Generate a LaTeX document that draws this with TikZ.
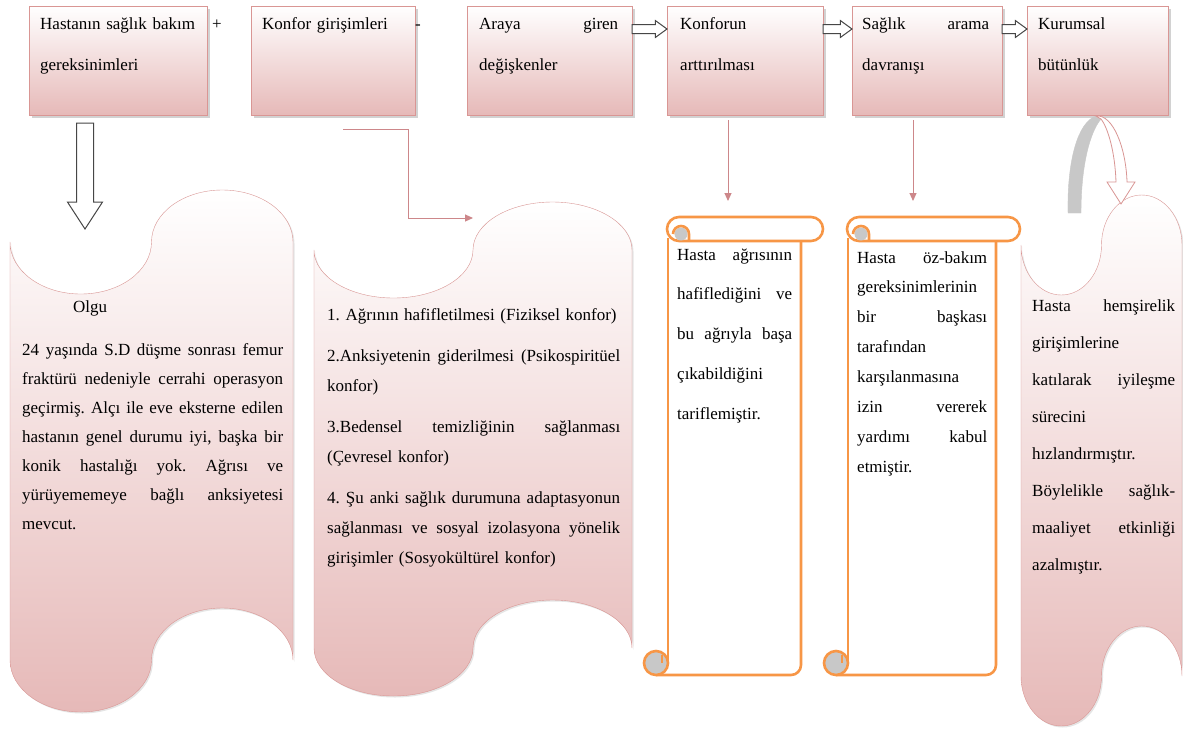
\documentclass[tikz,border=0pt]{standalone}
\usepackage{fontspec}
\setmainfont{Liberation Serif}
\usetikzlibrary{positioning,shapes.arrows,arrows.meta,shadows}
\definecolor{pinkbot}{RGB}{230,185,184}
\definecolor{pinkline}{RGB}{217,150,148}
\definecolor{connpink}{RGB}{205,135,138}
\definecolor{scrollorange}{RGB}{247,150,70}
\definecolor{curlgray}{RGB}{200,200,200}
\definecolor{arrowgray}{RGB}{70,70,70}
\frenchspacing
\newlength{\jlwidth}
\newcommand{\jl}[1]{\makebox[\jlwidth][s]{\spaceskip=.25em plus 1fil minus .08em\relax #1}}
\newcommand{\wavepath}[5]{%
  \draw[wave] (#1,#3) arc[start angle=180,end angle=0,x radius={#2/4},y radius=#5]
    arc[start angle=180,end angle=360,x radius={#2/4},y radius=#5]
    -- ++(0,{#4-#3})
    arc[start angle=0,end angle=-180,x radius={#2/4},y radius=#5]
    arc[start angle=0,end angle=180,x radius={#2/4},y radius=#5] -- cycle;}
\newcommand{\vscroll}[3]{%
  \fill[white] (#1,238) rectangle (#3,675);
  \draw[scroll] (#1,238) -- (#1,663);
  \draw[scroll] (#3,238) -- (#3,665) arc[start angle=0,end angle=90,radius=10] -- ({#1-12},675);
  \filldraw[scroll, fill=curlgray] ({#1-12},663) circle[radius=12];
  \draw[scroll, line width=1.2pt] ({#1-6},655) -- ({#1-6},663);
  \filldraw[scroll, fill=white, rounded corners=12pt] ({#1-1},217) rectangle (#2,241);
  \fill[curlgray] ({#1+13},234) circle[radius=6.5];
  \draw[scroll] ({#1+5},234) arc[start angle=180,end angle=360,radius=8] -- ({#1+21},240);}
\tikzset{
  topbox/.style={draw=pinkline, top color=white, bottom color=pinkbot,
    drop shadow={shadow xshift=2.5pt,shadow yshift=-2.5pt,opacity=.35},
    minimum height=109pt, inner sep=0pt, outer sep=0pt},
  txt/.style={inner sep=0pt, anchor=base west, align=left,
    font=\fontsize{17}{#1}\selectfont},
  txt/.default=29,
  tw/.style={text width=#1, jlw=#1},
  jlw/.code={\setlength{\jlwidth}{#1}},
  wave/.style={draw=pinkline, top color=white, bottom color=pinkbot,
    drop shadow={shadow xshift=1.5pt,shadow yshift=-1.5pt,opacity=.2}},
  conn/.style={draw=connpink, line width=1pt, -{Triangle[length=8pt,width=7pt]}},
  blockarrow/.style={single arrow, draw=arrowgray, fill=white, line width=1pt,
    inner xsep=0pt, outer sep=0pt},
  scroll/.style={draw=scrollorange, line width=2.6pt},
}
\begin{document}
\begin{tikzpicture}[x=1pt,y=-1pt]
\useasboundingbox[fill=white] (0,0) rectangle (1183,734);

\node[topbox, minimum width=178pt, anchor=north west] (A) at (29,6) {};
\node[topbox, minimum width=164pt, right=44pt of A] (B) {};
\node[topbox, minimum width=165pt, right=52pt of B] (C) {};
\node[topbox, minimum width=156pt, right=35pt of C] (D) {};
\node[topbox, minimum width=150pt, right=29pt of D] (E) {};
\node[topbox, minimum width=141pt, right=25pt of E] (F) {};

\node[txt=41, tw=160pt] (tA) at (40,29) {Hastanın sağlık bakım\\gereksinimleri};
\node[txt] (plus) at (212,29) {+};
\node[txt=41, tw=140pt] (tB) at (262,29) {Konfor girişimleri};
\node[txt] (minus) at (415,29) {-};
\node[txt=41, tw=139pt] (tC) at (479,29) {\jl{Araya giren}\\değişkenler};
\node[txt=41, tw=130pt] (tD) at (680,29) {Konforun\\arttırılması};
\node[txt=41, tw=127pt] (tE) at (862,29) {\jl{Sağlık arama}\\davranışı};
\node[txt=41, tw=120pt] (tF) at (1038,29) {Kurumsal\\bütünlük};

\node[blockarrow, minimum height=35pt, inner ysep=4pt, single arrow head extend=4pt,
  single arrow tip angle=72, anchor=tail] (ar1) at ([yshift=-23pt]C.north east) {};
\node[blockarrow, minimum height=29pt, inner ysep=4pt, single arrow head extend=4pt,
  single arrow tip angle=72, anchor=tail] (ar2) at ([yshift=-23pt]D.north east) {};
\node[blockarrow, minimum height=25pt, inner ysep=4pt, single arrow head extend=4pt,
  single arrow tip angle=72, anchor=tail] (ar3) at ([yshift=-23pt]E.north east) {};
\node[blockarrow, rotate=-90, minimum height=106pt, inner ysep=8pt, single arrow head extend=9pt,
  single arrow tip angle=66, anchor=tail] (ad) at (85,123) {};

\coordinate (b0) at (343,129);
\coordinate (w2) at (473,218);
\draw[conn] (b0) -- ++(65,0) |- (w2);
\coordinate (s1) at (728,201);
\coordinate (s2) at (913,201);
\draw[conn, shorten <=5pt] (D.south -| s1) -- (s1);
\draw[conn, shorten <=5pt] (E.south -| s2) -- (s2);

\wavepath{10}{283}{242}{660}{52}
\wavepath{314}{318}{250}{648}{48}
\wavepath{1021}{161}{245}{676}{50}

\filldraw[fill=curlgray, draw=curlgray] (1068,213) .. controls (1067,160) and (1078,122) .. (1096,116)
  -- (1101,119) .. controls (1090,132) and (1081,165) .. (1081,213) -- cycle;
\filldraw[fill=white, draw=pinkline, line width=.8pt] (1096,116) .. controls (1113,114) and (1126,148) .. (1127,182)
  -- (1135,182) -- (1121,204) -- (1107,182) -- (1116,182) .. controls (1115,152) and (1108,128) .. (1101,119) -- cycle;

\vscroll{668}{823}{801}
\vscroll{848}{1020}{996}

\node[txt] (olgu) at (73,312) {Olgu};
\node[txt=29, tw=261pt] (case) at (22,355) {\jl{24 yaşında S.D düşme sonrası femur}\\\jl{fraktürü nedeniyle cerrahi operasyon}\\\jl{geçirmiş. Alçı ile eve eksterne edilen}\\\jl{hastanın genel durumu iyi, başka bir}\\\jl{konik hastalığı yok. Ağrısı ve}\\\jl{yürüyememeye bağlı anksiyetesi}\\mevcut.};
\node[txt=30, tw=293pt] (care) at (327,320) {1. Ağrının hafifletilmesi (Fiziksel konfor)\\[11pt]\jl{2.Anksiyetenin giderilmesi (Psikospiritüel}\\konfor)\\[11pt]\jl{3.Bedensel temizliğinin sağlanması}\\(Çevresel konfor)\\[11pt]\jl{4. Şu anki sağlık durumuna adaptasyonun}\\\jl{sağlanması ve sosyal izolasyona yönelik}\\girişimler (Sosyokültürel konfor)};
\node[txt=39.8, tw=115pt] (tS1) at (677,260) {\jl{Hasta ağrısının}\\\jl{hafiflediğini ve}\\\jl{bu ağrıyla başa}\\çıkabildiğini\\tariflemiştir.};
\node[txt=29.9, tw=130pt] (tS2) at (857,263) {\jl{Hasta öz-bakım}\\gereksinimlerinin\\\jl{bir başkası}\\tarafından\\karşılanmasına\\\jl{izin vererek}\\\jl{yardımı kabul}\\etmiştir.};
\node[txt=37, tw=143pt] (result) at (1032,311) {\jl{Hasta hemşirelik}\\girişimlerine\\\jl{katılarak iyileşme}\\sürecini\\hızlandırmıştır.\\\jl{Böylelikle sağlık-}\\\jl{maaliyet etkinliği}\\azalmıştır.};
\end{tikzpicture}
\end{document}
